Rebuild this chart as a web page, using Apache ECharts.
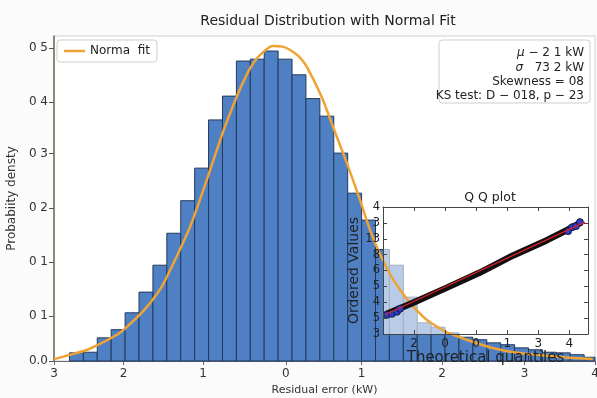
<!DOCTYPE html>
<html>
<head>
<meta charset="utf-8">
<script src="https://cdn.jsdelivr.net/npm/echarts@6/dist/echarts.min.js"></script>
<style>
  html, body { margin: 0; padding: 0; background: #fbfbfb; }
  #chart { width: 597px; height: 398px; }
</style>
</head>
<body>
<div id="chart"></div>
<script>
// Histogram of residuals: bins start at binStart, each binWidth wide
const binStart = -2.8;
const binWidth = 0.18;
const binHeights = [0.013, 0.014, 0.037, 0.050, 0.077, 0.110, 0.153, 0.204, 0.256, 0.308,
                    0.385, 0.423, 0.479, 0.482, 0.495, 0.482, 0.457, 0.419, 0.391, 0.332,
                    0.268, 0.225, 0.178, 0.153, 0.102, 0.061, 0.054, 0.045, 0.038, 0.034,
                    0.029, 0.026, 0.021, 0.018, 0.014, 0.013, 0.010, 0.006];

// Fitted density curve (x in kW, density)
const fitX = [-3.00, -2.79, -2.57, -2.38, -2.17, -1.99, -1.80, -1.60, -1.42, -1.24, -1.15,
              -0.98, -0.83, -0.72, -0.59, -0.46, -0.34, -0.17, -0.04, 0.05, 0.18, 0.27,
              0.47, 0.61, 0.79, 0.96, 1.09, 1.22, 1.39, 1.61, 1.83, 2.08, 2.34, 2.64,
              2.94, 3.25, 3.59, 3.97];
const fitY = [0.003, 0.010, 0.018, 0.029, 0.043, 0.062, 0.086, 0.120, 0.165, 0.214, 0.244,
              0.305, 0.360, 0.396, 0.435, 0.468, 0.488, 0.503, 0.502, 0.497, 0.485, 0.470,
              0.420, 0.374, 0.316, 0.257, 0.209, 0.170, 0.130, 0.092, 0.065, 0.046, 0.034, 0.022,
              0.014, 0.010, 0.006, 0.003];

// Main axis ticks
const xTickValues = [-3, -2.1, -1.07, 0, 0.98, 2.02, 3.09, 4];
const xTickLabels = ['3', '2', '1', '0', '1', '2', '3', '4'];
const yTickValues = [0, 0.072, 0.158, 0.244, 0.331, 0.414, 0.5];
const yTickLabels = ['0.0', '0 1', '0 1', '0 2', '0 3', '0 4', '0 5'];

// Q-Q inset: sample band, end markers and reference line
const qqBandX = [-2.87, -2.03, -0.94, 0.12, 1.19, 2.28, 2.92, 3.34];
const qqBandY = [1.27, 1.97, 2.92, 3.87, 4.95, 5.91, 6.54, 6.98];
const qqMarkX = [-2.87, -2.71, -2.55, -2.45, 2.96, 3.09, 3.21, 3.34];
const qqMarkY = [1.21, 1.27, 1.40, 1.59, 6.48, 6.73, 6.79, 7.05];
const qqRefX = [-2.94, 3.50];
const qqRefY = [1.21, 7.05];
const qqXTickValues = [-2, -1, 0, 1, 2, 3];
const qqXTickLabels = ['2', '0', '0', '1', '3', '4'];
const qqYTickLabels = ['3', '5', '4', '5', '6', '8', '13', '3', '4'];

// Fit statistics box
const statLines = [
  '{i|μ} − 2 1 kW',
  '{i|σ}   73 2 kW',
  'Skewness = 08',
  'KS test: D − 018, p − 23'
];

const FONT = 'DejaVu Sans';
const zip = (a, b) => a.map((v, i) => [v, b[i]]);
const pick = (vals, labels) => v => {
  let best = 0;
  vals.forEach((t, i) => { if (Math.abs(t - v) < Math.abs(vals[best] - v)) best = i; });
  return labels[best];
};

const bins = binHeights.map((h, i) => [binStart + i * binWidth, binStart + (i + 1) * binWidth, h]);

const chart = echarts.init(document.getElementById('chart'), null, { renderer: 'canvas' });

chart.setOption({
  backgroundColor: '#fbfbfb',
  animation: false,
  textStyle: { fontFamily: FONT },
  title: [
    { text: 'Residual Distribution with Normal Fit', left: 323, top: 9, textAlign: 'center',
      textStyle: { fontSize: 14, fontWeight: 'normal', color: '#222', fontFamily: FONT } },
    { text: 'Q Q plot', left: 485, top: 186, textAlign: 'center',
      textStyle: { fontSize: 12.5, fontWeight: 'normal', color: '#222', fontFamily: FONT } }
  ],
  legend: {
    data: [{ name: 'Norma  fit', icon: 'rect' }],
    left: 57, top: 40,
    padding: [5, 7, 5, 7],
    itemWidth: 21, itemHeight: 2.5,
    borderColor: '#cfcfcf', borderWidth: 1, borderRadius: 3,
    backgroundColor: 'rgba(255,255,255,0.9)',
    textStyle: { fontSize: 12, color: '#222', fontFamily: FONT, padding: [3, 0, 3, 0] }
  },
  grid: [
    { left: 54, right: 2, top: 36, bottom: 37, show: true, backgroundColor: '#ffffff',
      borderColor: '#d0d0d0', borderWidth: 1, outerBoundsMode: 'none', containLabel: false },
    { left: 383, top: 207, width: 205, height: 127, outerBoundsMode: 'none', containLabel: false }
  ],
  xAxis: [
    { type: 'value', gridIndex: 0, min: -3, max: 4,
      axisLine: { onZero: false, lineStyle: { color: '#6a6a6a', width: 1.2 } },
      axisTick: { show: true, length: 4, customValues: xTickValues, lineStyle: { color: '#6a6a6a' } },
      axisLabel: { customValues: xTickValues, formatter: pick(xTickValues, xTickLabels),
                   fontSize: 12, color: '#333', margin: 7 },
      splitLine: { show: false },
      name: 'Residual error (kW)', nameLocation: 'middle', nameGap: 24,
      nameTextStyle: { fontSize: 11, color: '#333' } },
    { type: 'value', gridIndex: 1, min: -3, max: 3.6, position: 'bottom', z: 8,
      axisLine: { onZero: false, lineStyle: { color: '#444' } },
      axisTick: { inside: true, length: 4, customValues: qqXTickValues, lineStyle: { color: '#444' } },
      axisLabel: { customValues: qqXTickValues, formatter: pick(qqXTickValues, qqXTickLabels),
                   fontSize: 12, color: '#222', margin: 4 },
      splitLine: { show: false },
      name: 'Theoretical quantiles', nameLocation: 'middle', nameGap: 15,
      nameTextStyle: { fontSize: 15, color: '#222' } },
    { type: 'value', gridIndex: 1, min: -3, max: 3.6, position: 'top', z: 8,
      axisLine: { onZero: false, lineStyle: { color: '#444' } },
      axisTick: { inside: true, length: 4, customValues: qqXTickValues, lineStyle: { color: '#444' } },
      axisLabel: { show: false },
      splitLine: { show: false } }
  ],
  yAxis: [
    { type: 'value', gridIndex: 0, min: 0, max: 0.519,
      axisLine: { show: true, onZero: false, lineStyle: { color: '#7a6e5e', width: 1.6 } },
      axisTick: { show: true, length: 5, customValues: yTickValues, lineStyle: { color: '#555' } },
      axisLabel: { customValues: yTickValues, formatter: pick(yTickValues, yTickLabels),
                   fontSize: 12, color: '#333', margin: 6 },
      splitLine: { show: false },
      name: 'Probabiity densty', nameLocation: 'middle', nameGap: 33,
      nameTextStyle: { fontSize: 12, color: '#333' } },
    { type: 'value', gridIndex: 1, min: 0, max: 8, interval: 1, position: 'left', z: 8,
      axisLine: { show: true, onZero: false, lineStyle: { color: '#444' } },
      axisTick: { show: true, inside: true, length: 4, lineStyle: { color: '#444' } },
      axisLabel: { formatter: v => qqYTickLabels[Math.round(v)], fontSize: 11.5, color: '#222', margin: 3 },
      splitLine: { show: false },
      name: 'Ordered Values', nameLocation: 'middle', nameGap: 21,
      nameTextStyle: { fontSize: 14, color: '#222' } },
    { type: 'value', gridIndex: 1, min: 0, max: 8, interval: 1, position: 'right', z: 8,
      axisLine: { show: true, onZero: false, lineStyle: { color: '#444' } },
      axisTick: { show: true, inside: true, length: 4, lineStyle: { color: '#444' } },
      axisLabel: { show: false },
      splitLine: { show: false } }
  ],
  series: [
    {
      type: 'custom', name: 'Residuals', xAxisIndex: 0, yAxisIndex: 0, z: 2,
      data: bins,
      encode: { x: [0, 1], y: 2 },
      renderItem: (params, api) => {
        const p0 = api.coord([api.value(0), api.value(2)]);
        const p1 = api.coord([api.value(1), 0]);
        const cs = params.coordSys;
        const shape = echarts.graphic.clipRectByRect(
          { x: p0[0], y: p0[1], width: p1[0] - p0[0], height: p1[1] - p0[1] },
          { x: cs.x, y: cs.y, width: cs.width, height: cs.height });
        if (!shape) return null;
        return { type: 'rect', shape,
                 style: { fill: '#4f80c3', stroke: '#23395c', lineWidth: 1 } };
      }
    },
    {
      // translucent face of the inset axes
      type: 'custom', name: 'insetFace', xAxisIndex: 1, yAxisIndex: 1, z: 3, silent: true,
      data: [[0, 0]],
      renderItem: (params) => {
        const cs = params.coordSys;
        return { type: 'rect', shape: { x: cs.x, y: cs.y, width: cs.width, height: cs.height },
                 style: { fill: 'rgba(255,255,255,0.6)' } };
      }
    },
    {
      type: 'line', name: 'Norma  fit', xAxisIndex: 0, yAxisIndex: 0, z: 4,
      data: zip(fitX, fitY), smooth: 0.2, symbol: 'none',
      lineStyle: { color: '#eea334', width: 2.5 },
      itemStyle: { color: '#eea334' }
    },
    {
      type: 'line', name: 'Ordered', xAxisIndex: 1, yAxisIndex: 1, z: 5,
      data: zip(qqBandX, qqBandY), symbol: 'none',
      lineStyle: { color: '#111', width: 6.5, cap: 'round' }
    },
    {
      type: 'scatter', name: 'OrderedEnds', xAxisIndex: 1, yAxisIndex: 1, z: 6,
      data: zip(qqMarkX, qqMarkY), symbolSize: 7,
      itemStyle: { color: '#2a3cc8', borderColor: '#111', borderWidth: 0.8, opacity: 1 }
    },
    {
      type: 'line', name: 'Reference', xAxisIndex: 1, yAxisIndex: 1, z: 7,
      data: zip(qqRefX, qqRefY), symbol: 'none',
      lineStyle: { color: '#e3202a', width: 1.2 }
    }
  ],
  graphic: [
    { type: 'group', z: 10, children: [
      { type: 'rect', shape: { x: 439, y: 40, width: 151, height: 63, r: 3 },
        style: { fill: 'rgba(255,255,255,0.9)', stroke: '#cfcfcf', lineWidth: 1 } },
      { type: 'text', x: 584, y: 46,
        style: { text: statLines.join('\n'), align: 'right', verticalAlign: 'top',
                 fontSize: 12, fontFamily: FONT, lineHeight: 14.3, fill: '#222',
                 rich: { i: { fontStyle: 'italic', fontSize: 12, fontFamily: FONT, fill: '#222' } } } }
    ] }
  ]
});
</script>
</body>
</html>
